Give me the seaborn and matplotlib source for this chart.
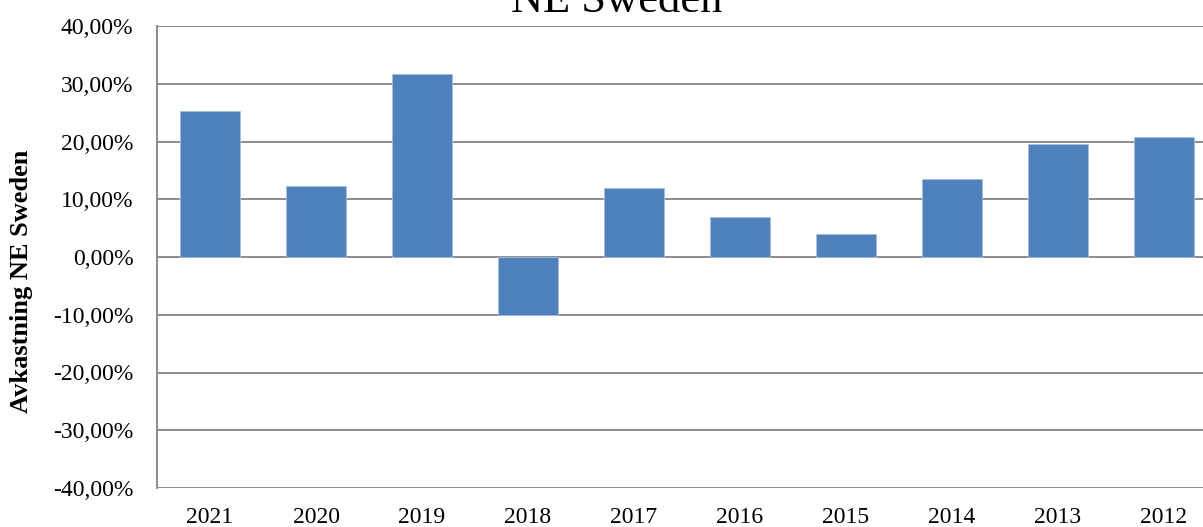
import matplotlib
matplotlib.use("Agg")
import matplotlib.pyplot as plt
import seaborn as sns
import pandas as pd
from matplotlib.ticker import FuncFormatter

years = ["2021", "2020", "2019", "2018", "2017", "2016", "2015", "2014", "2013", "2012"]
returns = [25.2, 12.3, 31.7, -10.0, 12.0, 6.9, 4.0, 13.5, 19.6, 20.8]
yticks = [-40, -30, -20, -10, 0, 10, 20, 30, 40]

title = "NE Sweden"
ylabel = "Avkastning NE Sweden"

sns.set_theme(style="white")
plt.rcParams["font.family"] = ["Liberation Serif", "DejaVu Serif"]
plt.rcParams["text.color"] = "#000000"

df = pd.DataFrame({"year": years, "ret": returns})

fig = plt.figure(figsize=(12.03, 5.27), dpi=100)
ax = fig.add_axes([157 / 1203, 39 / 527, 1060 / 1203, 462 / 527])

sns.barplot(data=df, x="year", y="ret", order=years, color="#4F81BD",
            saturation=1, width=0.566, ax=ax, zorder=3,
            edgecolor="#A7C0E0", linewidth=0.6)

ax.set_ylim(-40, 40)
ax.set_xlim(-0.5, len(years) - 0.5)
ax.set_yticks(yticks)
ax.yaxis.set_major_formatter(FuncFormatter(lambda v, p: f"{v:.2f}".replace(".", ",") + "%"))
ax.grid(axis="y", color="#8C8C8C", linewidth=1.4, zorder=0)
ax.set_axisbelow(True)
for s in ["top", "right", "bottom"]:
    ax.spines[s].set_visible(False)
ax.spines["left"].set_color("#8C8C8C")
ax.spines["left"].set_linewidth(1.4)
ax.tick_params(axis="both", length=0, labelsize=17, colors="#000000")
ax.tick_params(axis="y", pad=17)
ax.tick_params(axis="x", pad=14)
ax.set_xlabel("")
ax.set_ylabel("")

fig.text(22 / 1203, 1 - 281 / 527, ylabel, rotation=90, ha="center", va="center",
         fontsize=19, fontweight="bold", color="#000000")
fig.text(617 / 1203, 1 - 12 / 527, title, ha="center", va="baseline", fontsize=32,
         color="#000000")

fig.savefig("out.png", dpi=100)
